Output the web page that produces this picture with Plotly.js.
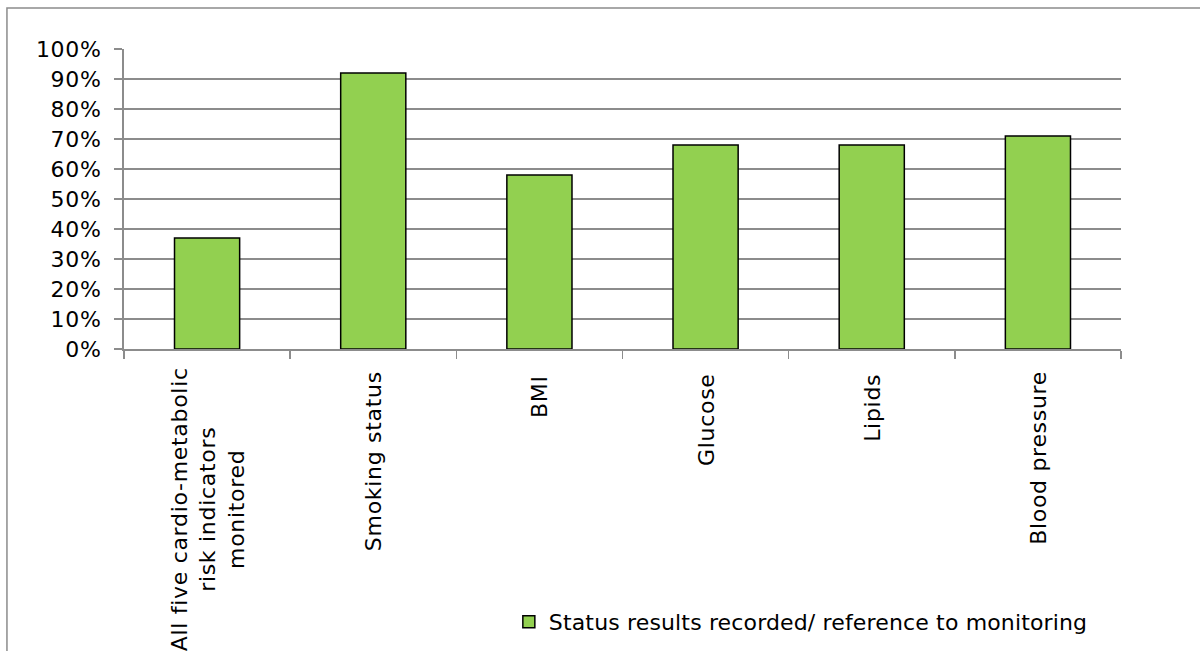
<!DOCTYPE html>
<html>
<head>
<meta charset="utf-8">
<script src="https://cdn.plot.ly/plotly-3.0.1.min.js"></script>
<style>
  html, body { margin: 0; padding: 0; background: #fff; }
  #chart { width: 1200px; height: 651px; }
  #chart .annotation-text, #chart .ytick text { letter-spacing: 0.7px; }
  #chart .legendtext { letter-spacing: 0.15px; }
</style>
</head>
<body>
<div id="chart"></div>
<script>
// Data
const categories = [
  "All five cardio-metabolic<br>risk indicators<br>monitored",
  "Smoking status",
  "BMI",
  "Glucose",
  "Lipids",
  "Blood pressure"
];
const values = [0.37, 0.92, 0.58, 0.68, 0.68, 0.71];
const seriesName = "Status results recorded/ reference to monitoring";
const yTickValues = [0, 0.1, 0.2, 0.3, 0.4, 0.5, 0.6, 0.7, 0.8, 0.9, 1.0];

const FONT = "DejaVu Sans, Verdana, sans-serif";
const GREY = "#8c8c8c";

const trace = {
  type: "bar",
  x: categories,
  y: values,
  name: seriesName,
  showlegend: true,
  marker: { color: "#92d050", line: { color: "#000000", width: 1.5 } },
  hoverinfo: "skip"
};

const annotations = categories.map(c => ({
  x: c, xref: "x", y: 0, yref: "paper",
  yanchor: "top", xanchor: "center", yshift: -25,
  text: c, textangle: -90, align: "center", showarrow: false,
  font: { family: FONT, size: 22, color: "#000" }
}));

const layout = {
  width: 1200, height: 651,
  margin: { l: 124, r: 79, t: 49, b: 302, autoexpand: false },
  paper_bgcolor: "#ffffff", plot_bgcolor: "#ffffff",
  font: { family: FONT, size: 22, color: "#000" },
  bargap: 0.608,
  xaxis: {
    type: "category",
    showticklabels: false,
    tickson: "boundaries",
    ticks: "outside", ticklen: 8, tickwidth: 1.5, tickcolor: GREY,
    showgrid: false, zeroline: false,
    showline: true, linecolor: GREY, linewidth: 2,
    fixedrange: true
  },
  yaxis: {
    range: [0, 1],
    tickvals: yTickValues,
    tickformat: ".0%",
    ticks: "outside", ticklen: 8, tickwidth: 1.5, tickcolor: GREY,
    ticklabelstandoff: 8,
    showgrid: true, gridcolor: GREY, gridwidth: 1.5,
    zeroline: false,
    showline: true, linecolor: GREY, linewidth: 2,
    tickfont: { family: FONT, size: 22, color: "#000" },
    fixedrange: true
  },
  showlegend: true,
  legend: {
    x: 0.386, y: -0.91, xref: "paper", yref: "paper",
    xanchor: "left", yanchor: "middle",
    bgcolor: "rgba(0,0,0,0)",
    font: { family: FONT, size: 22, color: "#000" },
    itemwidth: 30
  },
  annotations: annotations,
  shapes: [{
    type: "rect", xref: "paper", yref: "paper",
    x0: -0.1174, x1: 1.2, y0: -1.5, y1: 1.1367,
    line: { color: GREY, width: 1.5 }, fillcolor: "rgba(0,0,0,0)",
    layer: "below"
  }]
};

Plotly.newPlot("chart", [trace], layout, { displayModeBar: false, staticPlot: true });
</script>
</body>
</html>
